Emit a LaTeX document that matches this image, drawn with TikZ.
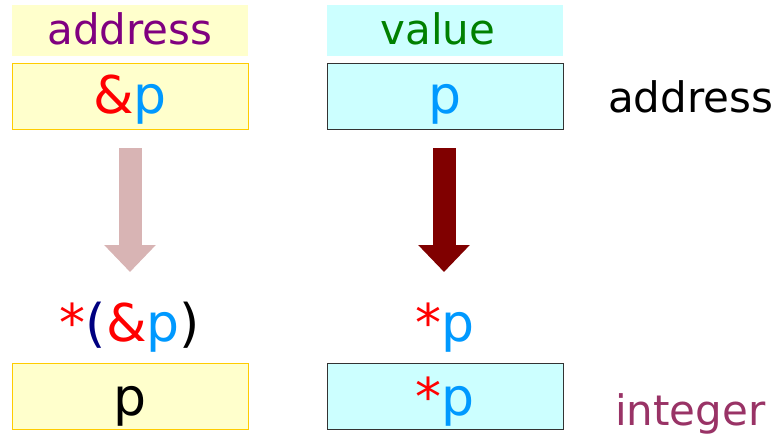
\documentclass[tikz,border=0pt]{standalone}
\usepackage{fontspec}
\setmainfont{DejaVu Sans}
\usetikzlibrary{arrows.meta}
\definecolor{ylw}{HTML}{FFFFCC}
\definecolor{ylwb}{HTML}{FFCC00}
\definecolor{cyn}{HTML}{CCFFFF}
\definecolor{cynb}{HTML}{333333}
\definecolor{pblue}{HTML}{0099FF}
\definecolor{pred}{HTML}{FF0000}
\definecolor{ppurple}{HTML}{800080}
\definecolor{pgreen}{HTML}{008000}
\definecolor{pnavy}{HTML}{000080}
\definecolor{pint}{HTML}{993366}
\definecolor{arrpink}{HTML}{D8B4B4}
\definecolor{arrdark}{HTML}{800000}
\begin{document}
\begin{tikzpicture}[x=1pt,y=-1pt,
  every node/.style={inner sep=0pt,outer sep=0pt,font=\fontsize{42}{48}\selectfont},
  big/.style={font=\fontsize{52}{60}\selectfont},
  ybox/.style={draw=ylwb,fill=ylw,line width=1pt},
  cbox/.style={draw=cynb,fill=cyn,line width=1pt},
  txt/.style={anchor=base},
  bigarrow/.style={line width=23pt,-{Triangle[length=27pt,width=50pt]}}]
\useasboundingbox (0,0) rectangle (778,436);
% headers
\fill[ylw] (12,5) rectangle (248,56);
\fill[cyn] (327,5) rectangle (563,56);
\node[txt,text=ppurple] (h1) at (130,45) {address};
\node[txt,text=pgreen] (h2) at (438,45) {value};
% top boxes
\draw[ybox] (12,63) rectangle (248,129);
\draw[cbox] (327,63) rectangle (563,129);
\node[txt,big] (t1) at (130,113) {\textcolor{pred}{\&}\textcolor{pblue}{p}};
\node[txt,big,text=pblue] (t2) at (445,113) {p};
\node[anchor=base west] (ra) at (608,112) {address};
% arrows
\coordinate (a1s) at (130,148);
\coordinate (a1e) at (130,272);
\coordinate (a2s) at (444,148);
\coordinate (a2e) at (444,272);
\draw[bigarrow,draw=arrpink,color=arrpink] (a1s) -- (a1e);
\draw[bigarrow,draw=arrdark,color=arrdark] (a2s) -- (a2e);
% labels
\node[txt,big] (l1) at (130,341) {\textcolor{pred}{*}\textcolor{pnavy}{(}\textcolor{pred}{\&}\textcolor{pblue}{p})};
\node[txt,big] (l2) at (445,341) {\textcolor{pred}{*}\textcolor{pblue}{p}};
% bottom boxes
\draw[ybox] (12,363) rectangle (248,429);
\draw[cbox] (327,363) rectangle (563,429);
\node[txt,big] (b1) at (130,415) {p};
\node[txt,big] (b2) at (445,415) {\textcolor{pred}{*}\textcolor{pblue}{p}};
\node[anchor=base west,text=pint] (ri) at (615,425) {integer};
\end{tikzpicture}
\end{document}
